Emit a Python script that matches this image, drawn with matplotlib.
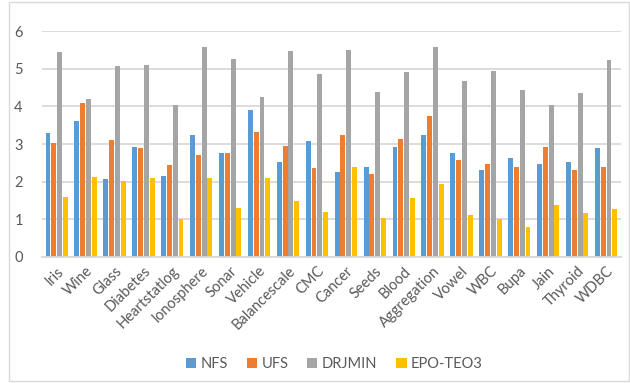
import numpy as np
import matplotlib.pyplot as plt
from matplotlib.patches import Rectangle

plt.rcParams['font.family'] = ['Lato', 'DejaVu Sans']

datasets = ['Iris', 'Wine', 'Glass', 'Diabetes', 'Heartstatlog', 'Ionosphere',
            'Sonar', 'Vehicle', 'Balancescale', 'CMC', 'Cancer', 'Seeds', 'Blood',
            'Aggregation', 'Vowel', 'WBC', 'Bupa', 'Jain', 'Thyroid', 'WDBC']

nfs = [3.28, 3.60, 2.07, 2.93, 2.15, 3.23, 2.77, 3.90, 2.52, 3.08,
       2.25, 2.40, 2.93, 3.25, 2.75, 2.32, 2.63, 2.48, 2.52, 2.90]
ufs = [3.03, 4.10, 3.10, 2.90, 2.43, 2.70, 2.75, 3.32, 2.95, 2.35,
       3.25, 2.20, 3.12, 3.75, 2.57, 2.48, 2.40, 2.93, 2.30, 2.38]
drjmin = [5.45, 4.20, 5.08, 5.10, 4.04, 5.57, 5.26, 4.25, 5.48, 4.86,
          5.50, 4.38, 4.90, 5.58, 4.66, 4.95, 4.43, 4.04, 4.35, 5.22]
epo_teo3 = [1.58, 2.13, 2.02, 2.10, 1.00, 2.10, 1.30, 2.10, 1.50, 1.20,
            2.40, 1.03, 1.57, 1.93, 1.12, 1.00, 0.80, 1.37, 1.17, 1.28]

series = [('NFS', nfs, '#5B9BD5'), ('UFS', ufs, '#ED7D31'),
          ('DRJMIN', drjmin, '#A5A5A5'), ('EPO-TEO3', epo_teo3, '#FFC000')]

fig = plt.figure(figsize=(6.3, 3.83), dpi=100)
ax = fig.add_axes([0.067, 0.329, 0.918, 0.590])

x = np.arange(len(datasets))
step, width = 0.2, 0.17
for i, (name, vals, col) in enumerate(series):
    ax.bar(x + (i - 1.5) * step, vals, width, color=col, label=name, zorder=2)

ax.set_xlim(-0.5, len(datasets) - 0.5)
ax.set_ylim(0, 6)
ax.set_yticks(range(7))
ax.yaxis.grid(True, color='#D9D9D9', linewidth=1.3, zorder=0)
ax.set_axisbelow(True)
for s in ['top', 'right', 'left']:
    ax.spines[s].set_visible(False)
ax.spines['bottom'].set_color('#D9D9D9')
ax.spines['bottom'].set_linewidth(1.3)
ax.tick_params(axis='both', length=0, colors='#595959', labelsize=10.5)
ax.tick_params(axis='y', pad=14)
ax.tick_params(axis='x', pad=5)
ax.set_xticks(x)
ax.set_xticklabels(datasets, rotation=45, ha='right', rotation_mode='anchor')

ax.legend(loc='center', bbox_to_anchor=(0.505, -0.475), ncol=4, frameon=False,
          fontsize=10.5, handlelength=0.7, handleheight=0.7, columnspacing=1.3,
          handletextpad=0.3, labelcolor='#595959')

# chart area border
fig.patches.append(Rectangle((0.014, 0.005), 0.984, 0.99, transform=fig.transFigure,
                             fill=False, edgecolor='#D9D9D9', linewidth=1))

fig.savefig('out.png', dpi=100)
